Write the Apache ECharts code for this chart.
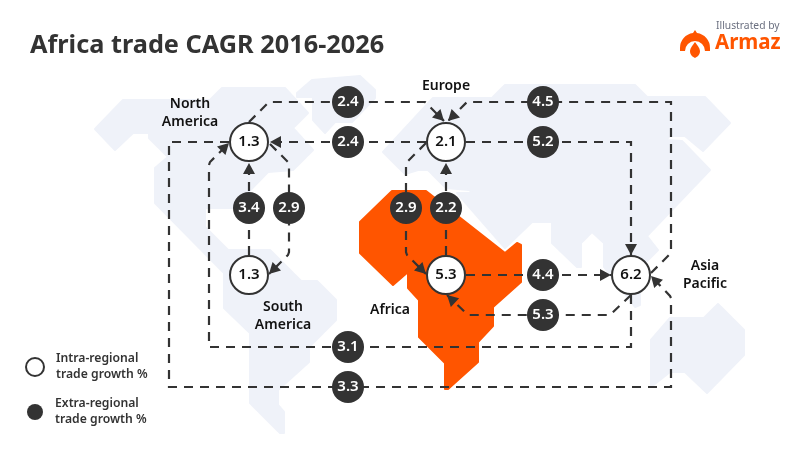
<!DOCTYPE html>
<html>
<head>
<meta charset="utf-8">
<title>Africa trade CAGR 2016-2026</title>
<script src="https://cdn.jsdelivr.net/npm/echarts@6/dist/echarts.min.js"></script>
<style>
  html, body { margin: 0; padding: 0; background: #fff; }
  #main { width: 800px; height: 450px; }
</style>
</head>
<body>
<div id="main"></div>
<script>
// regional growth (open circles)
const regionValues = [1.3, 2.1, 1.3, 5.3, 6.2];
const regionX = [249, 446, 249, 446, 631];
const regionY = [142, 142, 275, 275, 275];

// flows between regions (dark circles)
const flowValues = [2.4, 2.4, 4.5, 5.2, 3.4, 2.9, 2.9, 2.2, 4.4, 5.3, 3.1, 3.3];
const flowX = [348, 348, 543, 543, 249, 289, 406, 446, 543, 543, 348, 348];
const flowY = [102, 142, 102, 142, 208, 208, 208, 208, 275, 315, 347, 387];

const regionNames = ['North\nAmerica', 'Europe', 'South\nAmerica', 'Africa', 'Asia\nPacific'];
const nameX = [190, 446, 283, 390, 705];
const nameY = [113, 86, 316, 310, 275];

// dashed routes, last point is the arrow tip
const routes = [
  [[249, 122], [268, 103], [270, 102], [425, 102], [444, 121]],
  [[426, 142], [270, 142]],
  [[651, 273], [670, 254], [671, 252], [671, 102], [467, 102], [448, 121]],
  [[466, 142], [631, 142], [631, 255]],
  [[249, 255], [249, 163]],
  [[270, 144], [288, 162], [289, 165], [289, 252], [288, 255], [269, 274]],
  [[426, 143], [407, 162], [406, 165], [406, 252], [407, 255], [426, 274]],
  [[446, 255], [446, 163]],
  [[466, 275], [611, 275]],
  [[631, 295], [611, 314], [608, 315], [469, 315], [467, 314], [447, 295]],
  [[631, 295], [631, 347], [209, 347], [209, 165], [210, 162], [229, 143]],
  [[229, 142], [169, 142], [169, 387], [671, 387], [671, 298], [670, 296], [651, 276]]
];

const worldShapes = [
  [[95, 129], [123, 100], [210, 100], [222, 88], [285, 88], [308, 113], [293, 128], [313, 150], [293, 170], [268, 172], [233, 208], [205, 208], [205, 227], [228, 250], [270, 250], [301, 281], [317, 281], [336, 300], [336, 320], [309, 347], [309, 362], [278, 390], [278, 405], [284, 412], [284, 433], [280, 433], [250, 403], [250, 333], [224, 308], [224, 273], [155, 203], [155, 168], [168, 157], [149, 138], [149, 133], [133, 133], [115, 150]],
  [[297, 93], [312, 80], [360, 76], [375, 90], [375, 98], [352, 122], [335, 122], [325, 133], [313, 120], [313, 97], [297, 97]],
  [[383, 152], [433, 98], [492, 98], [505, 85], [635, 85], [647, 97], [705, 97], [730, 123], [703, 151], [685, 136], [670, 136], [666, 140], [682, 141], [710, 170], [647, 236], [658, 250], [640, 268], [640, 305], [635, 307], [604, 267], [604, 243], [592, 232], [581, 243], [581, 267], [577, 267], [552, 243], [552, 222], [532, 222], [505, 248], [457, 193], [473, 193], [469, 190], [446, 188], [428, 170], [418, 170], [405, 174]],
  [[651, 340], [670, 318], [704, 318], [718, 304], [744, 330], [744, 355], [707, 393], [685, 372], [670, 372], [651, 387]]
];
const africaShape = [[392, 191], [426, 191], [505, 253], [517, 243], [521, 245], [521, 282], [493, 307], [493, 326], [478, 342], [478, 362], [448, 389], [445, 389], [445, 363], [419, 337], [419, 300], [408, 288], [408, 272], [393, 285], [360, 253], [360, 222]];

const INTRA_NAME = 'Intra-regional\ntrade growth %';
const EXTRA_NAME = 'Extra-regional\ntrade growth %';
const DARK = '#333333';
const FONT = '"Noto Sans", sans-serif';
const LOGO_PATH = 'M15 0 L17 3 A15 15 0 0 1 30 18 L30 21 L25 21 A10 10 0 0 0 5 21 L0 21 L0 18 A15 15 0 0 1 13 3 Z M15 12 C17 15 20 18 20 21 C20 25 17 27 15 28 C13 27 10 25 10 21 C10 18 13 15 15 12 Z';

function polygonSeries(shapes, fill, z) {
  return {
    type: 'custom',
    coordinateSystem: 'cartesian2d',
    silent: true,
    clip: false,
    z: z,
    data: shapes.map(() => [0, 0]),
    renderItem: function (params, api) {
      return {
        type: 'polygon',
        shape: { points: shapes[params.dataIndex].map(p => api.coord(p)) },
        style: { fill: fill, stroke: fill, lineWidth: 2, lineJoin: 'round' }
      };
    }
  };
}

// arrow heads sit on the end of each route and take its direction
const arrowData = routes.map(r => {
  const tip = r[r.length - 1];
  const prev = r[r.length - 2];
  const dx = tip[0] - prev[0];
  const dy = tip[1] - prev[1];
  const len = Math.sqrt(dx * dx + dy * dy);
  return [tip[0] - dx / len * 5.5, tip[1] - dy / len * 5.5, Math.atan2(-dx, -dy) * 180 / Math.PI];
});

const chart = echarts.init(document.getElementById('main'));
chart.setOption({
  animation: false,
  backgroundColor: '#fff',
  title: {
    text: 'Africa trade CAGR 2016-2026',
    left: 25,
    top: 28,
    textStyle: { fontFamily: FONT, fontSize: 25.3, fontWeight: 700, color: DARK }
  },
  legend: [
    {
      data: [INTRA_NAME], left: 20, top: 346, itemWidth: 18, itemHeight: 18, itemGap: 0,
      textStyle: { fontFamily: FONT, fontSize: 12.2, fontWeight: 600, lineHeight: 16, color: DARK, padding: [0, 0, 0, 7] },
      selectedMode: false
    },
    {
      data: [EXTRA_NAME], left: 22, top: 391, itemWidth: 16, itemHeight: 16, itemGap: 0,
      textStyle: { fontFamily: FONT, fontSize: 12.2, fontWeight: 600, lineHeight: 16, color: DARK, padding: [0, 0, 0, 7] },
      selectedMode: false
    }
  ],
  grid: { left: 0, right: 0, top: 0, bottom: 0 },
  xAxis: { type: 'value', min: 0, max: 800, show: false },
  yAxis: { type: 'value', min: 0, max: 450, inverse: true, show: false },
  graphic: [
    {
      type: 'text', x: 716, y: 21,
      style: { text: 'Illustrated by', fontFamily: FONT, fontSize: 10.3, fill: '#6b7080' }
    },
    {
      type: 'text', x: 715, y: 33,
      style: { text: 'Armaz', fontFamily: FONT, fontSize: 20.5, fontWeight: 700, fill: '#ff5500' }
    }
  ],
  series: [
    polygonSeries(worldShapes, '#eff2f9', 1),
    polygonSeries([africaShape], '#ff5500', 2),
    {
      // logo mark
      type: 'custom',
      coordinateSystem: 'none',
      silent: true,
      z: 2,
      data: [0],
      renderItem: function () {
        return {
          type: 'path',
          shape: { pathData: LOGO_PATH, x: 680, y: 30, width: 30, height: 28 },
          style: { fill: '#ff5500' }
        };
      }
    },
    {
      type: 'lines',
      coordinateSystem: 'cartesian2d',
      polyline: true,
      silent: true,
      z: 3,
      lineStyle: { color: DARK, width: 2.2, type: [9, 7], opacity: 1 },
      data: routes.map(r => ({ coords: r }))
    },
    {
      type: 'scatter',
      silent: true,
      z: 4,
      symbol: 'triangle',
      symbolSize: [12, 11],
      symbolRotate: v => v[2],
      itemStyle: { color: DARK, opacity: 1 },
      data: arrowData
    },
    {
      name: EXTRA_NAME,
      type: 'scatter',
      z: 5,
      symbol: 'circle',
      symbolSize: 32,
      itemStyle: { color: DARK, opacity: 1 },
      label: {
        show: true, position: 'inside', color: '#fff', fontFamily: FONT, fontSize: 15, fontWeight: 600,
        formatter: p => p.value[2].toFixed(1)
      },
      data: flowValues.map((v, i) => [flowX[i], flowY[i], v])
    },
    {
      name: INTRA_NAME,
      type: 'scatter',
      z: 5,
      symbol: 'circle',
      symbolSize: 38,
      itemStyle: { color: '#fff', borderColor: DARK, borderWidth: 2, opacity: 1 },
      label: {
        show: true, position: 'inside', color: '#111', fontFamily: FONT, fontSize: 15, fontWeight: 600,
        formatter: p => p.value[2].toFixed(1)
      },
      data: regionValues.map((v, i) => [regionX[i], regionY[i], v])
    },
    {
      // region names, the marks themselves stay invisible
      type: 'scatter',
      silent: true,
      z: 6,
      symbolSize: 1,
      itemStyle: { color: 'transparent', opacity: 1 },
      label: {
        show: true, position: 'inside', color: '#111', fontFamily: FONT, fontSize: 14, fontWeight: 600, lineHeight: 18, align: 'center',
        formatter: p => regionNames[p.dataIndex]
      },
      data: regionNames.map((n, i) => [nameX[i], nameY[i]])
    }
  ]
});
</script>
</body>
</html>
